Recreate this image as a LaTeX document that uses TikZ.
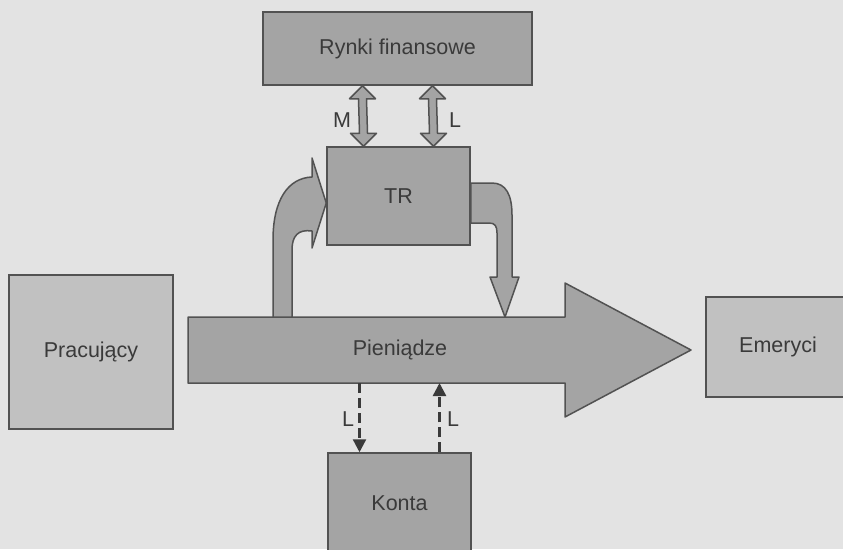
\documentclass[tikz,border=0pt]{standalone}
\usepackage{fontspec}
\setmainfont{Liberation Sans}
\usetikzlibrary{
  arrows.meta,
  positioning,
  calc
}
\definecolor{paper}{RGB}{227,227,227}
\definecolor{boxdark}{RGB}{164,164,164}
\definecolor{boxlight}{RGB}{193,193,193}
\definecolor{edge}{RGB}{82,82,82}
\definecolor{ink}{RGB}{58,58,58}

% fat double arrow between two coordinates (top tip, bottom tip)
\newcommand{\fatdbl}[2]{%
  \filldraw[fatarrow] (#1) -- ++(13,13) -- ++(-9,0)
    -- ([shift={(4,-13)}]#2) -- ++(9,0) -- (#2) -- ++(-13,-13) -- ++(9,0)
    -- ([shift={(-4,13)}]#1) -- ++(-9,0) -- cycle;%
}

\begin{document}
\begin{tikzpicture}[
  x=1pt, y=-1pt,
  every node/.style={font=\fontsize{21.5}{25}\selectfont, text=ink},
  box/.style={draw=edge, line width=1.5pt, fill=boxdark, inner sep=0pt},
  sidebox/.style={box, fill=boxlight},
  fatarrow/.style={draw=edge, line width=1.5pt, fill=boxdark, line join=round},
  flow/.style={draw=ink, line width=2.4pt, dash pattern=on 10pt off 5pt,
               -{Triangle[length=13pt,width=13pt]}},
  >=Stealth
]

\fill[paper] (0,0) rectangle (843,549);
\useasboundingbox (0,0) rectangle (843,549);

% main flow
\filldraw[fatarrow] (188,317) -- (565,317) -- (565,283) -- (691,350)
  -- (565,417) -- (565,383) -- (188,383) -- cycle;
\node (pien) at (400,350) {Pieniądze};

% boxes
\node[box, minimum width=269, minimum height=73] (rynki) at (397.5,48.5) {Rynki finansowe};
\node[box, minimum width=143, minimum height=98] (tr) at (398.5,196) {TR};
\node[sidebox, minimum width=164, minimum height=154] (prac) at (91,352) {Pracujący};
\node[sidebox, minimum width=144, minimum height=100] (emer) at (778,347) {Emeryci};
\node[box, minimum width=143, minimum height=100] (konta) at (399.5,503) {Konta};

% TR <-> Rynki finansowe
\coordinate (mtop) at ([xshift=-35]rynki.south);
\coordinate (mbot) at ([xshift=-35]tr.north);
\coordinate (ltop) at ([xshift=35]rynki.south);
\coordinate (lbot) at ([xshift=35]tr.north);
\fatdbl{mtop}{mbot}
\fatdbl{ltop}{lbot}
\node (labm) at (342,120) {M};
\node (labl) at (455,120) {L};

% curved arrows between the flow and TR
\filldraw[fatarrow] (273,317) -- (273,240)
  .. controls (273,200) and (288,178) .. (312,177)
  -- (312,158) -- (tr.west |- 0,203) -- (312,248) -- (312,231)
  .. controls (298,229) and (292,236) .. (292,250) -- (292,317) -- cycle;
\filldraw[fatarrow] (tr.east |- 0,183) -- (492,183)
  .. controls (506,183) and (512,195) .. (512,215) -- (512,277)
  -- (519,277) -- (505,317) -- (490,277) -- (497,277) -- (497,233)
  .. controls (497,226) and (495,223) .. (489,223) -- (tr.east |- 0,223) -- cycle;

% flow <-> Konta
\coordinate (kin) at ([xshift=-40]konta.north);
\coordinate (kout) at ([xshift=40]konta.north);
\draw[flow] (kin |- 0,383) -- (kin);
\draw[flow] (kout) -- (kout |- 0,383);
\node (labk1) at (348,419) {L};
\node (labk2) at (453,419) {L};

\end{tikzpicture}
\end{document}
